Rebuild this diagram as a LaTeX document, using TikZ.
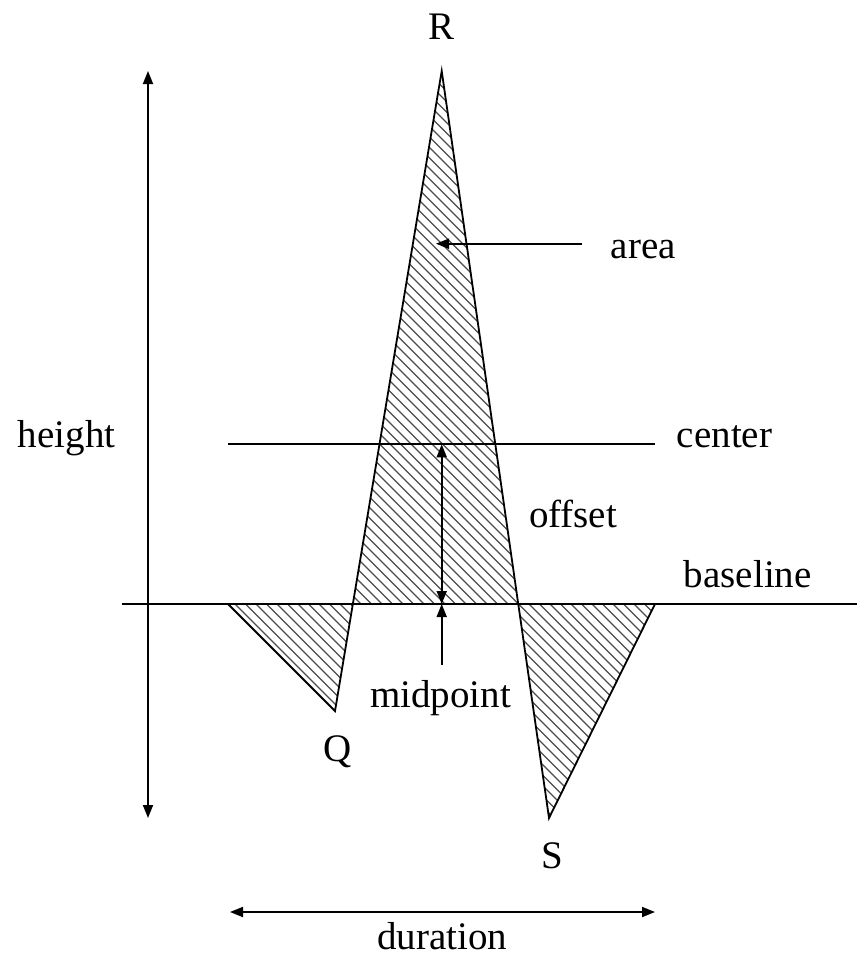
\documentclass[tikz,border=0pt]{standalone}
\usepackage{fontspec}
\setmainfont{Liberation Serif}
\usetikzlibrary{arrows.meta}
\begin{document}
\begin{tikzpicture}[x=1pt,y=-1pt,
  line width=1.8pt,
  tip/.style={-{Triangle[length=13pt,width=10pt]}},
  dtip/.style={{Triangle[length=13pt,width=10pt]}-{Triangle[length=13pt,width=10pt]}},
  hatch/.style={line width=1.3pt,black!70},
  lbl/.style={inner sep=0pt,font=\fontsize{39}{47}\selectfont}]
\useasboundingbox (0,0) rectangle (857,959);
% key points
\coordinate (R) at (441.7,71);
\coordinate (Q) at (335,711);
\coordinate (S) at (549,818);
\coordinate (B1) at (228,604);
\coordinate (B4) at (655,604);
% hatching
\begin{scope}
  \clip (B1) -- (Q) -- (R) -- (S) -- (B4) -- cycle;
  \foreach \k in {0,...,115} {
    \draw[hatch] ({\k*10.5-600},0) -- ++(1000,1000);
  }
\end{scope}
% outline
\draw[line join=miter] (B1) -- (Q) -- (R) -- (S) -- (B4);
% baseline
\coordinate (BL0) at (122,604);
\coordinate (BL1) at (857,604);
\draw (BL0) -- (BL1);
% center line
\coordinate (C0) at (228,444.3);
\coordinate (C1) at (655,444.3);
\draw (C0) -- (C1);
% height arrow
\coordinate (H0) at (148,71);
\coordinate (H1) at (148,818);
\draw[dtip] (H0) -- (H1);
% offset arrow
\coordinate (O0) at (441.7,444.3);
\coordinate (O1) at (441.7,604);
\draw[dtip] (O0) -- (O1);
% midpoint arrow
\coordinate (M0) at (441.7,665);
\draw[tip] (M0) -- (O1);
% area arrow
\coordinate (A0) at (581.7,243.7);
\coordinate (A1) at (436,243.7);
\draw[tip] (A0) -- (A1);
% duration arrow
\coordinate (D0) at (230,912);
\coordinate (D1) at (655,912);
\draw[dtip] (D0) -- (D1);
% labels
\node[lbl,anchor=base] (lR) at (442,39.3) {R};
\node[lbl,anchor=base] (lQ) at (338,761) {Q};
\node[lbl,anchor=base] (lS) at (552,868) {S};
\node[lbl,anchor=base west] (lheight) at (17,447.3) {height};
\node[lbl,anchor=base west] (lcenter) at (676,447.3) {center};
\node[lbl,anchor=base west] (lbaseline) at (683,587.3) {baseline};
\node[lbl,anchor=base east] (loffset) at (618,527.3) {offset};
\node[lbl,anchor=base west] (larea) at (610,258) {area};
\node[lbl,anchor=base west] (lmid) at (369.3,707.7) {midpoint};
\node[lbl,anchor=base] (ldur) at (442,949) {duration};
\end{tikzpicture}
\end{document}
